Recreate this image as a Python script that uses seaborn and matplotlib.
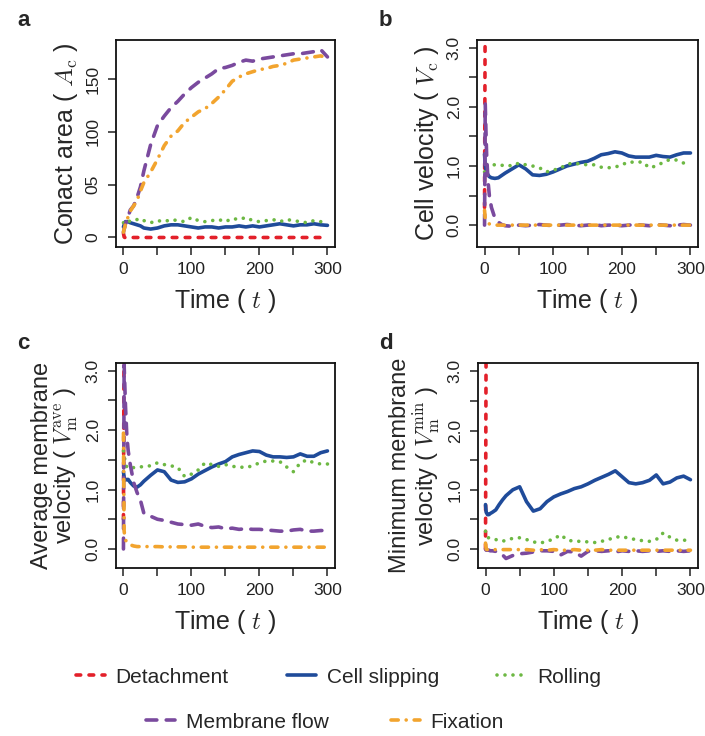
import matplotlib
matplotlib.use("Agg")
import matplotlib.pyplot as plt
import numpy as np
import pandas as pd
import seaborn as sns

# ---------------------------------------------------------------------------
# data
# ---------------------------------------------------------------------------
T = [0, 1, 2, 3, 5, 7, 10, 15, 20, 25, 30, 40, 50, 60, 70, 80, 90, 100, 110,
     120, 130, 140, 150, 160, 170, 180, 190, 200, 210, 220, 230, 240, 250, 260,
     270, 280, 290, 300]
T_DET = [0, 1]

MODES = ["Detachment", "Cell slipping", "Rolling", "Membrane flow", "Fixation"]

# a: contact area
det_a = [4, 0.5, 0, 0, 0, 0, 0, 0, 0, 0, 0, 0, 0, 0, 0, 0, 0, 0, 0,
         0, 0, 0, 0, 0, 0, 0, 0, 0, 0, 0, 0, 0, 0, 0, 0, 0, 0, 0]
slip_a = [10, 12, 14, 15, 15, 15, 14, 13, 12, 11, 9, 8, 9, 11, 12, 12, 11, 10, 9,
          10, 10, 9, 10, 10, 11, 10, 11, 10, 11, 12, 13, 12, 11, 12, 12, 13, 12, 11.5]
roll_a = [14, 15, 16, 16, 17, 16, 15, 16, 17, 15, 16, 14, 16, 15, 17, 16, 15, 19, 16,
          15, 16, 17, 15, 18, 17, 19, 16, 15, 16, 17, 15, 17, 16, 15, 14, 16, 15, 16]
flow_a = [5, 8, 10, 13, 16, 20, 26, 30, 38, 48, 63, 88, 106, 115, 123, 129, 136, 142, 147,
          151, 155, 160, 161, 163, 166, 168, 167, 169, 170, 171, 172, 173, 174, 174, 175, 176, 178, 171]
fix_a = [5, 8, 10, 13, 16, 20, 25, 30, 35, 44, 52, 62, 74, 87, 96, 101, 109, 114, 119,
         122, 127, 133, 140, 148, 152, 155, 157, 159, 160, 162, 163, 165, 168, 169, 170, 171, 172, 170]

# b: cell velocity
det_b = [0.3, 4.0]
slip_b = [1.2, 1.0, 0.95, 0.9, 0.85, 0.82, 0.8, 0.79, 0.8, 0.84, 0.88, 0.95, 1.02, 0.95, 0.85,
          0.84, 0.86, 0.9, 0.95, 1.0, 1.03, 1.06, 1.08, 1.13, 1.19, 1.21, 1.24, 1.22, 1.17,
          1.15, 1.15, 1.15, 1.18, 1.16, 1.15, 1.19, 1.22, 1.22]
roll_b = [0.9, 1.0, 1.02, 1.03, 1.02, 1.02, 1.02, 1.02, 1.02, 1.01, 1.02, 1.0, 1.05, 1.02, 1.0,
          0.97, 0.9, 0.93, 0.96, 1.03, 1.05, 1.03, 1.02, 1.02, 0.98, 0.97, 0.98, 1.02, 1.07,
          1.06, 1.07, 0.97, 1.0, 1.06, 1.11, 1.1, 1.05, 1.05]
flow_b = [0.0, 2.05, 1.6, 1.2, 0.75, 0.5, 0.3, 0.12, 0.05, 0.01, -0.01, -0.02, 0.0, -0.01, 0.0,
          0.01, 0.0, -0.01, 0.0, 0.01, 0.0, -0.01, 0.0, 0.01, -0.01, 0.0, 0.0, -0.01, 0.0,
          0.01, 0.0, -0.01, 0.01, 0.0, -0.01, 0.0, 0.01, 0.0]
fix_b = [0.25, 0.1, 0.08, 0.06, 0.04, 0.02, 0.01, 0.0, 0.0, 0.0, 0.0, 0.0, 0.0, 0.0, 0.0,
         0.0, 0.0, 0.0, 0.0, 0.0, 0.0, 0.0, 0.0, 0.0, 0.0, 0.0, 0.0, 0.0, 0.0,
         0.0, 0.0, 0.0, 0.0, 0.0, 0.0, 0.0, 0.0, 0.0]

# c: average membrane velocity
det_c = [0.5, 4.0]
slip_c = [1.3, 1.2, 1.17, 1.16, 1.17, 1.17, 1.12, 1.06, 1.04, 1.08, 1.14, 1.24, 1.33, 1.3, 1.16,
          1.12, 1.13, 1.18, 1.26, 1.32, 1.38, 1.43, 1.47, 1.55, 1.59, 1.62, 1.65, 1.64, 1.58,
          1.55, 1.55, 1.54, 1.55, 1.6, 1.56, 1.56, 1.62, 1.65]
roll_c = [1.65, 1.6, 1.5, 1.42, 1.38, 1.36, 1.35, 1.37, 1.38, 1.38, 1.39, 1.4, 1.45, 1.42, 1.4,
          1.37, 1.22, 1.26, 1.33, 1.45, 1.42, 1.39, 1.42, 1.39, 1.38, 1.37, 1.4, 1.45, 1.48,
          1.48, 1.47, 1.38, 1.3, 1.45, 1.5, 1.45, 1.43, 1.43]
flow_c = [0.0, 3.1, 2.75, 2.4, 1.9, 1.65, 1.42, 1.12, 0.95, 0.82, 0.6, 0.55, 0.5, 0.48, 0.45,
          0.42, 0.41, 0.4, 0.42, 0.38, 0.36, 0.37, 0.34, 0.35, 0.33, 0.34, 0.33, 0.33, 0.32,
          0.31, 0.3, 0.3, 0.32, 0.33, 0.3, 0.3, 0.31, 0.31]
fix_c = [1.95, 0.3, 0.2, 0.15, 0.12, 0.09, 0.07, 0.05, 0.04, 0.04, 0.04, 0.04, 0.04, 0.035, 0.035,
         0.035, 0.035, 0.03, 0.03, 0.03, 0.03, 0.03, 0.03, 0.03, 0.03, 0.03, 0.03, 0.03, 0.03,
         0.03, 0.03, 0.03, 0.03, 0.03, 0.03, 0.03, 0.03, 0.03]

# d: minimum membrane velocity
det_d = [0.0, 4.0]
slip_d = [0.75, 0.62, 0.6, 0.58, 0.58, 0.6, 0.62, 0.66, 0.75, 0.83, 0.9, 1.0, 1.05, 0.8, 0.64,
          0.68, 0.8, 0.88, 0.93, 0.97, 1.02, 1.05, 1.1, 1.16, 1.21, 1.26, 1.32, 1.22, 1.12,
          1.1, 1.12, 1.16, 1.25, 1.1, 1.13, 1.2, 1.23, 1.17]
roll_d = [0.3, 0.22, 0.2, 0.19, 0.19, 0.18, 0.18, 0.16, 0.14, 0.13, 0.15, 0.18, 0.19, 0.16, 0.12,
          0.1, 0.13, 0.17, 0.24, 0.15, 0.13, 0.13, 0.12, 0.11, 0.13, 0.16, 0.2, 0.21, 0.18,
          0.16, 0.14, 0.13, 0.16, 0.27, 0.2, 0.15, 0.15, 0.14]
flow_d = [0.0, -0.02, -0.02, -0.02, -0.02, -0.03, -0.03, -0.04, -0.06, -0.1, -0.16, -0.11, -0.08,
          -0.07, -0.05, -0.03, -0.03, -0.04, -0.1, -0.04, -0.05, -0.12, -0.04, -0.03, -0.04,
          -0.03, -0.05, -0.03, -0.04, -0.03, -0.04, -0.03, -0.04, -0.03, -0.04, -0.03, -0.04, -0.03]
fix_d = [0.1, 0.0, -0.01, -0.01, -0.01, -0.01, -0.01, -0.01, -0.01, -0.01, -0.01, -0.01, -0.01,
         -0.01, -0.02, -0.01, -0.02, -0.01, -0.02, -0.02, -0.01, -0.02, -0.02, -0.02, -0.01,
         -0.02, -0.02, -0.02, -0.02, -0.02, -0.02, -0.02, -0.02, -0.02, -0.02, -0.02, -0.02, -0.02]

X_TICKS = [0, 50, 100, 150, 200, 250, 300]
X_LABELS = ["0", "", "100", "", "200", "", "300"]
A_TICKS = [0, 50, 100, 150]
A_LABELS = ["0", "05", "100", "150"]
V_TICKS = [0.0, 0.5, 1.0, 1.5, 2.0, 2.5, 3.0]
V_LABELS = ["0.0", "", "1.0", "", "2.0", "", "3.0"]

COLORS = {
    "Detachment": "#E3202A",
    "Cell slipping": "#1F4B9A",
    "Rolling": "#6DB843",
    "Membrane flow": "#7A4A9E",
    "Fixation": "#F2A42E",
}
DASHES = {
    "Detachment": (1.3, 2.3),
    "Cell slipping": "",
    "Rolling": (0.01, 2.2),
    "Membrane flow": (3.0, 2.6),
    "Fixation": (2.0, 2.2, 0.01, 2.2),
}

sns.set_style("ticks")
plt.rcParams["font.family"] = ["Liberation Sans", "DejaVu Sans"]
plt.rcParams["mathtext.fontset"] = "cm"
plt.rcParams["lines.dash_capstyle"] = "round"
plt.rcParams["lines.solid_capstyle"] = "round"


def long_form(series):
    rows = []
    for mode, (t, v) in series.items():
        for ti, vi in zip(t, v):
            rows.append({"time": ti, "value": vi, "mode": mode})
    return pd.DataFrame(rows)


panels = [
    dict(letter="a", rect=[0.1645, 0.6644, 0.3106, 0.2812], ylim=(-9, 187),
         yticks=A_TICKS, ylabels=A_LABELS, ylabel=r"Conact area ( $A_\mathrm{c}$ )", yfs=18,
         series={"Detachment": (T, det_a), "Cell slipping": (T, slip_a), "Rolling": (T, roll_a),
                 "Membrane flow": (T, flow_a), "Fixation": (T, fix_a)}),
    dict(letter="b", rect=[0.6766, 0.6644, 0.3135, 0.2812], ylim=(-0.37, 3.13),
         yticks=V_TICKS, ylabels=V_LABELS, ylabel=r"Cell velocity ( $V_\mathrm{c}$ )", yfs=18,
         series={"Detachment": (T_DET, det_b), "Cell slipping": (T, slip_b), "Rolling": (T, roll_b),
                 "Membrane flow": (T, flow_b), "Fixation": (T, fix_b)}),
    dict(letter="c", rect=[0.1645, 0.2283, 0.3106, 0.2785], ylim=(-0.32, 3.13),
         yticks=V_TICKS, ylabels=V_LABELS,
         ylabel="Average membrane\n" + r"velocity ( $V_\mathrm{m}^\mathrm{ave}$ )", yfs=17,
         series={"Detachment": (T_DET, det_c), "Cell slipping": (T, slip_c), "Rolling": (T, roll_c),
                 "Membrane flow": (T, flow_c), "Fixation": (T, fix_c)}),
    dict(letter="d", rect=[0.678, 0.2283, 0.312, 0.2785], ylim=(-0.32, 3.14),
         yticks=V_TICKS, ylabels=V_LABELS,
         ylabel="Minimum membrane\n" + r"velocity ( $V_\mathrm{m}^\mathrm{min}$ )", yfs=17,
         series={"Detachment": (T_DET, det_d), "Cell slipping": (T, slip_d), "Rolling": (T, roll_d),
                 "Membrane flow": (T, flow_d), "Fixation": (T, fix_d)}),
]

fig = plt.figure(figsize=(7.05, 7.36), dpi=100)

for p in panels:
    ax = fig.add_axes(p["rect"])
    df = long_form(p["series"])
    sns.lineplot(data=df, x="time", y="value", hue="mode", style="mode",
                 hue_order=MODES, style_order=MODES, palette=COLORS, dashes=DASHES,
                 estimator=None, sort=False, legend=False, linewidth=2.6, ax=ax)
    ax.set_xlim(-11, 311)
    ax.set_ylim(*p["ylim"])
    ax.set_xticks(X_TICKS)
    ax.set_xticklabels(X_LABELS)
    ax.set_yticks(p["yticks"])
    ax.set_yticklabels(p["ylabels"], rotation=90, va="center")
    ax.tick_params(length=6, width=1.1, pad=5, labelsize=12.5,
                   labelcolor="#222222", color="#222222")
    for s in ax.spines.values():
        s.set_visible(True)
        s.set_linewidth(1.3)
        s.set_color("#111111")
    ax.set_xlabel(r"Time ( $t$ )", fontsize=18, labelpad=7)
    ax.set_ylabel(p["ylabel"], fontsize=p["yfs"], linespacing=1.0)
    bb = p["rect"]
    fig.text(bb[0] - 0.14, bb[1] + bb[3] + 0.027, p["letter"], fontsize=16,
             fontweight="bold", ha="left", va="center")

handles = [plt.Line2D([], [], color=COLORS[m], linewidth=2.6,
                      linestyle="-" if DASHES[m] == "" else (0, DASHES[m])) for m in MODES]

fig.legend(handles[:3], MODES[:3], loc="center left", bbox_to_anchor=(0.108, 0.08),
           ncol=3, frameon=False, fontsize=15, handlelength=1.4, handletextpad=0.5,
           columnspacing=2.8, borderpad=0, borderaxespad=0)
fig.legend(handles[3:], MODES[3:], loc="center left", bbox_to_anchor=(0.207, 0.019),
           ncol=2, frameon=False, fontsize=15, handlelength=1.4, handletextpad=0.5,
           columnspacing=3.0, borderpad=0, borderaxespad=0)

fig.savefig("out.png", dpi=100)
